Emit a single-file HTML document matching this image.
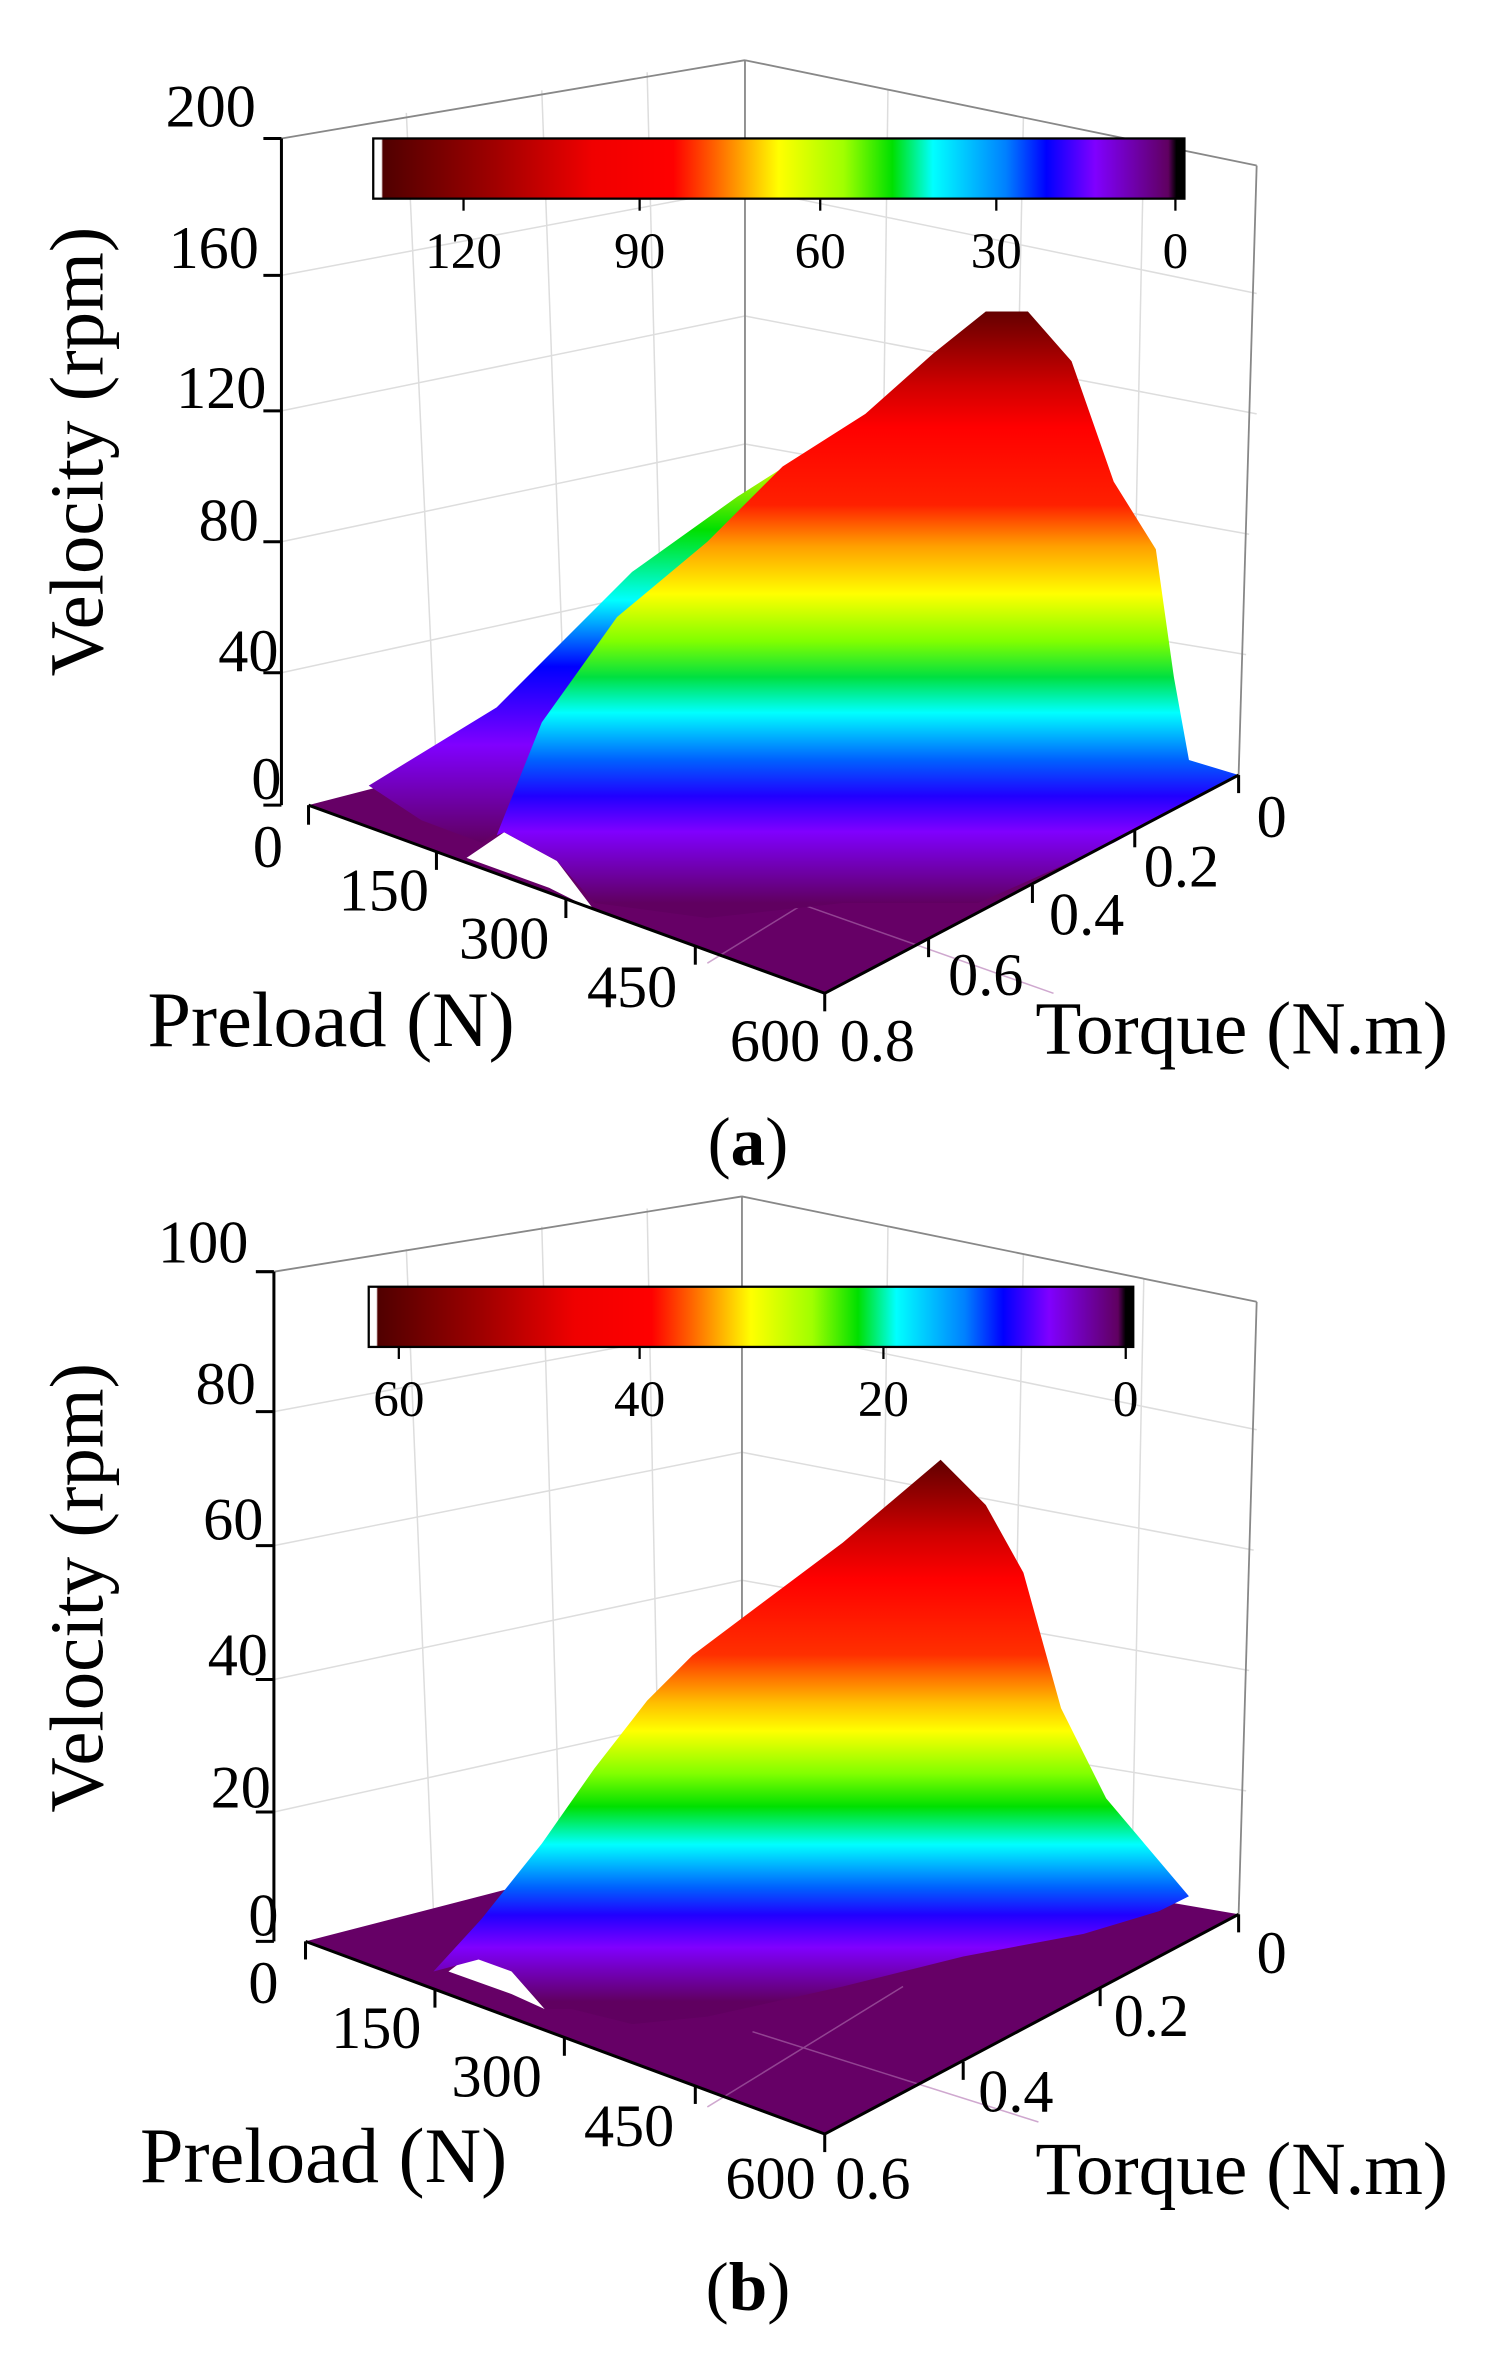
<!DOCTYPE html>
<html><head><meta charset="utf-8"><style>
html,body{margin:0;padding:0;background:#fff;}
svg{display:block;}
text{font-family:"Liberation Serif",serif;fill:#000;}
</style></head><body>
<svg width="1505" height="2367" viewBox="0 0 1000 1572.8" preserveAspectRatio="none" xmlns="http://www.w3.org/2000/svg">
<defs>
<linearGradient id="cb" x1="0" x2="1" y1="0" y2="0">
<stop offset="0" stop-color="#fff"/><stop offset="0.01" stop-color="#fff"/>
<stop offset="0.012" stop-color="#500000"/><stop offset="0.15" stop-color="#a00000"/>
<stop offset="0.27" stop-color="#f00000"/><stop offset="0.37" stop-color="#ff0000"/>
<stop offset="0.42" stop-color="#ff6000"/><stop offset="0.5" stop-color="#ffff00"/>
<stop offset="0.58" stop-color="#a0ff00"/><stop offset="0.64" stop-color="#00e000"/>
<stop offset="0.69" stop-color="#00ffff"/><stop offset="0.78" stop-color="#0080ff"/>
<stop offset="0.83" stop-color="#0000ff"/><stop offset="0.89" stop-color="#8000ff"/>
<stop offset="0.98" stop-color="#600060"/><stop offset="0.99" stop-color="#000"/>
<stop offset="1" stop-color="#000"/>
</linearGradient>
<linearGradient id="sa" gradientUnits="userSpaceOnUse" x1="0" y1="205" x2="0" y2="600">
<stop offset="0" stop-color="#600000"/><stop offset="0.13" stop-color="#d00000"/>
<stop offset="0.2" stop-color="#ff0000"/><stop offset="0.33" stop-color="#ff2000"/>
<stop offset="0.4" stop-color="#ffa000"/><stop offset="0.48" stop-color="#ffff00"/>
<stop offset="0.56" stop-color="#80ff00"/><stop offset="0.62" stop-color="#00e040"/>
<stop offset="0.68" stop-color="#00ffff"/><stop offset="0.76" stop-color="#0060ff"/>
<stop offset="0.82" stop-color="#2000ff"/><stop offset="0.88" stop-color="#8000ff"/>
<stop offset="1" stop-color="#600060"/>
</linearGradient>
<linearGradient id="sa2" gradientUnits="userSpaceOnUse" x1="0" y1="300" x2="0" y2="560">
<stop offset="0" stop-color="#ffff00"/><stop offset="0.2" stop-color="#00e000"/>
<stop offset="0.38" stop-color="#00ffff"/><stop offset="0.55" stop-color="#0000ff"/>
<stop offset="0.75" stop-color="#8000ff"/><stop offset="1" stop-color="#600060"/>
</linearGradient>
<linearGradient id="sb" gradientUnits="userSpaceOnUse" x1="0" y1="970" x2="0" y2="1330">
<stop offset="0" stop-color="#600000"/><stop offset="0.14" stop-color="#d00000"/>
<stop offset="0.22" stop-color="#ff0000"/><stop offset="0.36" stop-color="#ff3000"/>
<stop offset="0.45" stop-color="#ffc000"/><stop offset="0.5" stop-color="#ffff00"/>
<stop offset="0.58" stop-color="#80ff00"/><stop offset="0.64" stop-color="#00e000"/>
<stop offset="0.71" stop-color="#00ffff"/><stop offset="0.79" stop-color="#0060ff"/>
<stop offset="0.84" stop-color="#2000ff"/><stop offset="0.9" stop-color="#8000ff"/>
<stop offset="1" stop-color="#600060"/>
</linearGradient>
</defs>

<!-- ===== (a) ===== -->
<g stroke="#ddd" stroke-width="1" fill="none">
<line x1="187" y1="183" x2="495" y2="125"/><line x1="187" y1="273" x2="495" y2="210"/>
<line x1="187" y1="360" x2="495" y2="295"/><line x1="187" y1="447" x2="495" y2="380"/>
<line x1="495" y1="125" x2="835" y2="195"/><line x1="495" y1="210" x2="835" y2="275"/>
<line x1="495" y1="295" x2="830" y2="355"/><line x1="495" y1="380" x2="828" y2="435"/>
<line x1="270" y1="75" x2="290" y2="510"/><line x1="360" y1="60" x2="375" y2="470"/><line x1="430" y1="48" x2="440" y2="445"/>
<line x1="590" y1="60" x2="585" y2="450"/><line x1="680" y1="78" x2="672" y2="470"/><line x1="760" y1="95" x2="752" y2="490"/>
</g>
<g stroke="#888" stroke-width="1.2" fill="none">
<line x1="187" y1="92" x2="495" y2="40"/><line x1="495" y1="40" x2="835" y2="110"/>
<line x1="495" y1="40" x2="495" y2="430"/><line x1="835" y1="110" x2="823" y2="515"/>
</g>
<polygon points="205,535 495,460 823,515 548,660" fill="#660066"/>
<polygon points="310,570 335,553 370,572 395,605 365,590" fill="#fff"/>
<g stroke="#b070b0" stroke-width="1" opacity="0.6"><line x1="530" y1="600" x2="700" y2="660"/><line x1="600" y1="560" x2="470" y2="640"/></g>
<polygon points="245,522 330,470 420,380 490,330 545,295 560,320 470,420 400,470 350,540 320,560 280,545" fill="url(#sa2)"/>
<polygon points="330,555 360,480 410,410 470,360 520,310 575,275 620,235 655,207 683,207 712,240 740,320 768,365 780,450 790,505 823,515 740,560 650,600 560,600 470,610 395,600 370,572 335,553" fill="url(#sa)"/>
<rect x="248" y="92" width="539" height="40" fill="url(#cb)" stroke="#000" stroke-width="1.5"/>
<g stroke="#000" stroke-width="1.5">
<line x1="308" y1="132" x2="308" y2="140"/><line x1="425" y1="132" x2="425" y2="140"/><line x1="545" y1="132" x2="545" y2="140"/><line x1="662" y1="132" x2="662" y2="140"/><line x1="781" y1="132" x2="781" y2="140"/>
</g>
<g font-size="34" text-anchor="middle">
<text x="308" y="178">120</text><text x="425" y="178">90</text><text x="545" y="178">60</text><text x="662" y="178">30</text><text x="781" y="178">0</text>
</g>
<g stroke="#000" stroke-width="2" fill="none">
<line x1="187" y1="92" x2="187" y2="535"/>
<polyline points="205,535 548,660 823,515"/>
</g>
<g stroke="#000" stroke-width="2">
<line x1="175" y1="92" x2="187" y2="92"/><line x1="175" y1="183" x2="187" y2="183"/><line x1="175" y1="273" x2="187" y2="273"/><line x1="175" y1="360" x2="187" y2="360"/><line x1="175" y1="447" x2="187" y2="447"/><line x1="175" y1="535" x2="187" y2="535"/>
<line x1="205" y1="535" x2="205" y2="548"/><line x1="290" y1="566" x2="290" y2="578"/><line x1="376" y1="597" x2="376" y2="610"/><line x1="462" y1="629" x2="462" y2="641"/><line x1="548" y1="660" x2="548" y2="672"/>
<line x1="823" y1="515" x2="823" y2="527"/><line x1="754" y1="551" x2="754" y2="563"/><line x1="686" y1="588" x2="686" y2="600"/><line x1="617" y1="624" x2="617" y2="636"/>
</g>
<g font-size="40" text-anchor="end">
<text x="170" y="84">200</text><text x="172" y="178">160</text><text x="177" y="271">120</text><text x="172" y="359">80</text><text x="185" y="446">40</text><text x="187" y="531">0</text>
</g>
<g font-size="40" text-anchor="middle">
<text x="178" y="576">0</text><text x="255" y="605">150</text><text x="335" y="637">300</text><text x="420" y="669">450</text><text x="515" y="705">600</text>
<text x="845" y="556">0</text><text x="785" y="589">0.2</text><text x="722" y="621">0.4</text><text x="655" y="661">0.6</text><text x="583" y="705">0.8</text>
</g>
<text x="220" y="695" font-size="52" text-anchor="middle">Preload (N)</text>
<text x="825" y="700" font-size="50" text-anchor="middle">Torque (N.m)</text>
<text transform="translate(68,300) rotate(-90)" font-size="51" text-anchor="middle">Velocity (rpm)</text>
<text x="497" y="774" font-size="46" text-anchor="middle">(<tspan font-weight="bold">a</tspan>)</text>

<!-- ===== (b) ===== -->
<g stroke="#ddd" stroke-width="1" fill="none">
<line x1="182" y1="938" x2="493" y2="880"/><line x1="182" y1="1027" x2="493" y2="965"/>
<line x1="182" y1="1116" x2="493" y2="1050"/><line x1="182" y1="1204" x2="493" y2="1135"/>
<line x1="493" y1="880" x2="835" y2="950"/><line x1="493" y1="965" x2="833" y2="1030"/>
<line x1="493" y1="1050" x2="830" y2="1110"/><line x1="493" y1="1135" x2="828" y2="1190"/>
<line x1="270" y1="830" x2="288" y2="1270"/><line x1="360" y1="815" x2="372" y2="1230"/><line x1="430" y1="803" x2="438" y2="1205"/>
<line x1="590" y1="815" x2="585" y2="1210"/><line x1="680" y1="833" x2="672" y2="1230"/><line x1="760" y1="850" x2="752" y2="1250"/>
</g>
<g stroke="#888" stroke-width="1.2" fill="none">
<line x1="182" y1="845" x2="493" y2="795"/><line x1="493" y1="795" x2="835" y2="865"/>
<line x1="493" y1="795" x2="493" y2="1190"/><line x1="835" y1="865" x2="823" y2="1272"/>
</g>
<polygon points="203,1290 493,1215 823,1272 548,1418" fill="#660066"/>
<polygon points="298,1310 318,1295 340,1310 362,1335 340,1325" fill="#fff"/>
<g stroke="#b070b0" stroke-width="1" opacity="0.6"><line x1="500" y1="1350" x2="690" y2="1410"/><line x1="600" y1="1320" x2="470" y2="1400"/></g>
<polygon points="288,1310 320,1275 360,1225 395,1175 430,1130 460,1100 500,1070 560,1025 625,970 655,1000 680,1045 705,1135 735,1195 790,1260 770,1270 720,1285 640,1300 560,1320 470,1340 420,1345 380,1335 362,1335 340,1310 318,1302" fill="url(#sb)"/>
<rect x="245" y="855" width="508" height="40" fill="url(#cb)" stroke="#000" stroke-width="1.5"/>
<g stroke="#000" stroke-width="1.5">
<line x1="265" y1="895" x2="265" y2="903"/><line x1="425" y1="895" x2="425" y2="903"/><line x1="587" y1="895" x2="587" y2="903"/><line x1="748" y1="895" x2="748" y2="903"/>
</g>
<g font-size="34" text-anchor="middle">
<text x="265" y="941">60</text><text x="425" y="941">40</text><text x="587" y="941">20</text><text x="748" y="941">0</text>
</g>
<g stroke="#000" stroke-width="2" fill="none">
<line x1="182" y1="845" x2="182" y2="1290"/>
<polyline points="203,1290 548,1418 823,1272"/>
</g>
<g stroke="#000" stroke-width="2">
<line x1="170" y1="845" x2="182" y2="845"/><line x1="170" y1="938" x2="182" y2="938"/><line x1="170" y1="1027" x2="182" y2="1027"/><line x1="170" y1="1116" x2="182" y2="1116"/><line x1="170" y1="1204" x2="182" y2="1204"/><line x1="170" y1="1290" x2="182" y2="1290"/>
<line x1="203" y1="1290" x2="203" y2="1302"/><line x1="289" y1="1322" x2="289" y2="1334"/><line x1="375" y1="1354" x2="375" y2="1366"/><line x1="462" y1="1386" x2="462" y2="1398"/><line x1="548" y1="1418" x2="548" y2="1430"/>
<line x1="823" y1="1272" x2="823" y2="1284"/><line x1="731" y1="1321" x2="731" y2="1333"/><line x1="640" y1="1370" x2="640" y2="1382"/>
</g>
<g font-size="40" text-anchor="end">
<text x="165" y="839">100</text><text x="170" y="933">80</text><text x="175" y="1023">60</text><text x="178" y="1113">40</text><text x="180" y="1201">20</text><text x="185" y="1286">0</text>
</g>
<g font-size="40" text-anchor="middle">
<text x="175" y="1331">0</text><text x="250" y="1361">150</text><text x="330" y="1393">300</text><text x="418" y="1426">450</text><text x="512" y="1461">600</text>
<text x="845" y="1311">0</text><text x="765" y="1353">0.2</text><text x="675" y="1403">0.4</text><text x="580" y="1461">0.6</text>
</g>
<text x="215" y="1450" font-size="52" text-anchor="middle">Preload (N)</text>
<text x="825" y="1458" font-size="50" text-anchor="middle">Torque (N.m)</text>
<text transform="translate(68,1055) rotate(-90)" font-size="51" text-anchor="middle">Velocity (rpm)</text>
<text x="497" y="1535" font-size="46" text-anchor="middle">(<tspan font-weight="bold">b</tspan>)</text>
</svg>
</body></html>
